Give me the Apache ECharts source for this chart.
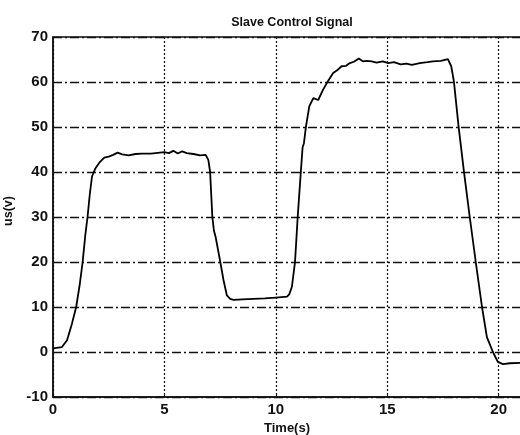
<!DOCTYPE html>
<html>
<head>
<meta charset="utf-8">
<script src="https://cdn.jsdelivr.net/npm/echarts@6/dist/echarts.min.js"></script>
<style>
  html, body { margin: 0; padding: 0; background: #fff; }
  #chart { width: 520px; height: 435px; }
</style>
</head>
<body>
<div id="chart"></div>
<script>
// Slave control signal us(v) sampled over time (s)
const timeS = [0, 0.4, 0.63, 0.85, 1.04, 1.2, 1.33, 1.45, 1.55, 1.65, 1.75, 1.9, 2.1, 2.3, 2.5, 2.7, 2.9, 3.1, 3.4, 3.7, 4.0, 4.4, 4.8, 5.0, 5.2, 5.4, 5.6, 5.8, 6.0, 6.3, 6.6, 6.85, 6.97, 7.05, 7.1, 7.15, 7.22, 7.3, 7.5, 7.65, 7.8, 7.95, 8.1, 8.5, 9.0, 9.5, 10.0, 10.5, 10.6, 10.72, 10.86, 10.98, 11.12, 11.2, 11.26, 11.35, 11.5, 11.68, 11.9, 12.12, 12.35, 12.57, 12.75, 12.95, 13.15, 13.32, 13.5, 13.72, 13.9, 14.07, 14.3, 14.52, 14.8, 15.04, 15.3, 15.6, 15.86, 16.1, 16.46, 16.8, 17.05, 17.4, 17.72, 17.87, 17.99, 18.2, 18.44, 18.7, 18.97, 19.25, 19.47, 19.74, 19.96, 20.19, 20.5, 21.0];
const usV = [0.8, 1.1, 2.6, 6.3, 10, 15, 20, 26, 30, 35, 39, 40.8, 42.2, 43.2, 43.4, 43.8, 44.3, 43.9, 43.7, 44.0, 44.1, 44.1, 44.3, 44.4, 44.2, 44.7, 44.1, 44.6, 44.2, 44.0, 43.7, 43.8, 42.7, 40, 35, 30, 27, 25.5, 20.2, 16, 12.6, 11.8, 11.6, 11.7, 11.8, 11.9, 12.1, 12.3, 12.8, 14.5, 20, 30, 40, 45.5, 46.4, 50.1, 54.6, 56.4, 56.0, 58.3, 60.3, 62.0, 62.6, 63.5, 63.6, 64.2, 64.5, 65.2, 64.6, 64.7, 64.6, 64.3, 64.6, 64.2, 64.4, 63.9, 64.1, 63.8, 64.2, 64.4, 64.6, 64.7, 65.1, 63.5, 60.1, 50.1, 40.1, 30, 20, 10, 3.3, 0, -2.2, -2.7, -2.5, -2.4];

const xTicks = [0, 5, 10, 15, 20];
const yTicks = [-10, 0, 10, 20, 30, 40, 50, 60, 70];

const chart = echarts.init(document.getElementById('chart'), null, { renderer: 'canvas' });

const labelFont = { fontFamily: 'Liberation Sans, Arial, sans-serif', fontWeight: 'bold', color: '#111' };

chart.setOption({
  animation: false,
  backgroundColor: '#fff',
  title: {
    text: 'Slave Control Signal',
    left: 287,
    top: 11,
    textAlign: 'center',
    textStyle: Object.assign({ fontSize: 12.5 }, labelFont)
  },
  grid: {
    left: 53, top: 37, bottom: 38, right: -1,
    outerBoundsMode: 'none',
    containLabel: false,
    show: true, borderColor: '#111', borderWidth: 1.5, backgroundColor: 'transparent'
  },
  xAxis: {
    type: 'value',
    min: 0, max: 21, interval: 5,
    name: 'Time(s)',
    nameLocation: 'middle',
    nameGap: 24,
    nameTextStyle: Object.assign({ fontSize: 13 }, labelFont),
    axisLine: { show: true, onZero: false, lineStyle: { color: '#111', width: 1.5 } },
    axisTick: { show: true, inside: true, length: 4, lineStyle: { color: '#111' } },
    axisLabel: Object.assign({
      fontSize: 15, margin: 5,
      formatter: v => xTicks.includes(v) ? String(v) : ''
    }, labelFont),
    splitLine: { show: true, lineStyle: { color: '#111', width: 1.2, type: [2, 2] } }
  },
  yAxis: {
    type: 'value',
    min: yTicks[0], max: yTicks[yTicks.length - 1], interval: 10,
    name: 'us(v)',
    nameLocation: 'middle',
    nameGap: 32,
    nameRotate: 90,
    nameTextStyle: Object.assign({ fontSize: 12.5, padding: [0, 0, 0, 12] }, labelFont),
    axisLine: { show: true, onZero: false, lineStyle: { color: '#111', width: 1.5 } },
    axisTick: { show: true, inside: true, length: 4, lineStyle: { color: '#111' } },
    axisLabel: Object.assign({ fontSize: 15, margin: 5 }, labelFont),
    splitLine: { show: true, lineStyle: { color: '#111', width: 1.3, type: [9, 3, 2, 3] } }
  },
  series: [{
    type: 'line',
    data: timeS.map((t, i) => [t, usV[i]]),
    showSymbol: false,
    smooth: false,
    lineStyle: { color: '#000', width: 1.8 },
    clip: true
  }]
});
</script>
</body>
</html>
